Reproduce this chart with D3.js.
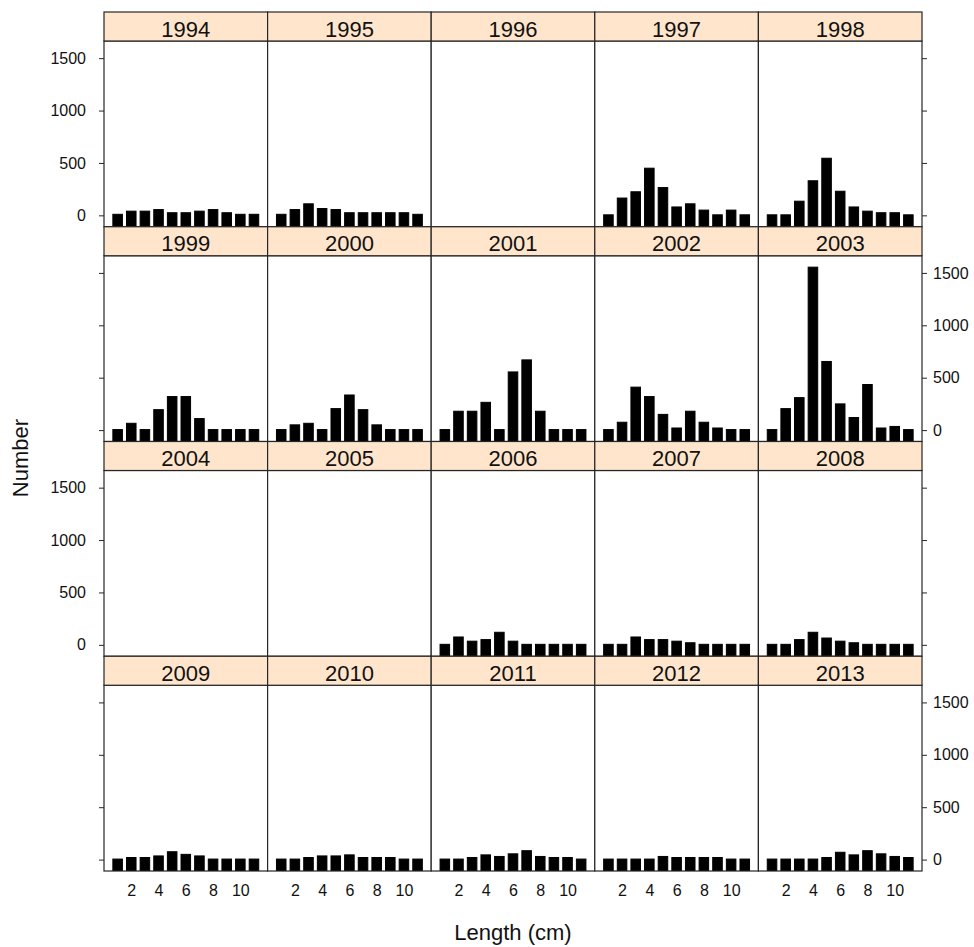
<!DOCTYPE html>
<html>
<head>
<meta charset="utf-8">
<script src="https://cdn.jsdelivr.net/npm/d3@7"></script>
<style>
  html, body { margin: 0; padding: 0; background: #fff; }
  svg { display: block; font-family: "Liberation Sans", Arial, sans-serif; }
</style>
</head>
<body>
<svg id="chart" width="974" height="947"></svg>
<script>
// ---- data ----
const years = [1994, 1995, 1996, 1997, 1998,
               1999, 2000, 2001, 2002, 2003,
               2004, 2005, 2006, 2007, 2008,
               2009, 2010, 2011, 2012, 2013];
const lengths = [1, 2, 3, 4, 5, 6, 7, 8, 9, 10, 11];
const n1994 = [10, 40, 40, 55, 25, 25, 40, 55, 25, 10, 10];
const n1995 = [10, 55, 110, 65, 55, 25, 25, 25, 25, 25, 10];
const n1996 = [];
const n1997 = [5, 165, 225, 450, 265, 80, 110, 50, 5, 50, 5];
const n1998 = [5, 5, 135, 330, 545, 230, 80, 40, 25, 25, 5];
const n1999 = [5, 65, 5, 195, 320, 320, 110, 5, 5, 5, 5];
const n2000 = [5, 50, 65, 5, 205, 335, 195, 50, 5, 5, 5];
const n2001 = [5, 180, 180, 265, 5, 555, 670, 180, 5, 5, 5];
const n2002 = [5, 75, 410, 320, 150, 20, 180, 75, 20, 5, 5];
const n2003 = [5, 205, 310, 1555, 655, 250, 120, 435, 20, 35, 5];
const n2004 = [];
const n2005 = [];
const n2006 = [5, 75, 35, 50, 120, 35, 5, 5, 5, 5, 5];
const n2007 = [5, 5, 75, 50, 50, 35, 20, 5, 5, 5, 5];
const n2008 = [5, 5, 50, 120, 65, 35, 20, 5, 5, 5, 5];
const n2009 = [5, 20, 20, 35, 75, 50, 35, 5, 5, 5, 5];
const n2010 = [5, 5, 20, 35, 35, 45, 20, 20, 20, 5, 5];
const n2011 = [5, 5, 20, 45, 30, 55, 85, 30, 20, 20, 5];
const n2012 = [5, 5, 5, 5, 30, 20, 20, 20, 20, 5, 5];
const n2013 = [5, 5, 5, 5, 20, 70, 45, 85, 55, 30, 20];
const yTicks = [0, 500, 1000, 1500];
const xTicks = [2, 4, 6, 8, 10];

const counts = [n1994, n1995, n1996, n1997, n1998, n1999, n2000, n2001, n2002, n2003,
                n2004, n2005, n2006, n2007, n2008, n2009, n2010, n2011, n2012, n2013];
const panels = years.map((yr, i) => ({
  year: yr, index: i,
  bars: counts[i].map((v, j) => ({ len: lengths[j], value: v }))
}));

// ---- layout ----
const svg = d3.select("#chart");
const L = 104, R = 922, T = 12, B = 871;
const ncol = 5, nrow = 4;
const colW = (R - L) / ncol;
const rowH = (B - T) / nrow;
const stripH = 29;
const border = "#262626";

const maxV = d3.max(counts.flat());
const yDomain = [-0.07 * maxV, 1.07 * maxV];

const defs = svg.append("defs");

panels.forEach(p => {
  const c = p.index % ncol, r = Math.floor(p.index / ncol);
  const x0 = L + c * colW, x1 = x0 + colW;
  const rTop = T + r * rowH, pTop = rTop + stripH, pBot = rTop + rowH;
  const x = d3.scaleLinear().domain([0, 12]).range([x0, x1]);
  const y = d3.scaleLinear().domain(yDomain).range([pBot, pTop]);

  const clipId = "clip" + p.index;
  defs.append("clipPath").attr("id", clipId)
    .append("rect").attr("x", x0).attr("y", pTop).attr("width", colW).attr("height", pBot - pTop);

  const g = svg.append("g");
  g.append("rect").attr("x", x0).attr("y", pTop).attr("width", colW).attr("height", pBot - pTop)
    .attr("fill", "#fff");

  const bw = 0.7;
  g.append("g").attr("clip-path", `url(#${clipId})`)
    .selectAll("rect").data(p.bars).join("rect")
    .attr("x", d => x(d.len - bw / 2))
    .attr("width", d => x(d.len + bw / 2) - x(d.len - bw / 2))
    .attr("y", d => y(d.value))
    .attr("height", d => y(yDomain[0]) - y(d.value))
    .attr("fill", "#000").attr("stroke", "#000").attr("stroke-width", 1);

  g.append("rect").attr("x", x0).attr("y", pTop).attr("width", colW).attr("height", pBot - pTop)
    .attr("fill", "none").attr("stroke", border).attr("stroke-width", 1.2);

  // strip
  g.append("rect").attr("x", x0).attr("y", rTop).attr("width", colW).attr("height", stripH)
    .attr("fill", "#FFE5CC").attr("stroke", border).attr("stroke-width", 1.2);
  g.append("text").attr("x", (x0 + x1) / 2).attr("y", rTop + 24.5)
    .attr("text-anchor", "middle").attr("font-size", 22).attr("fill", "#111")
    .text(p.year);

  // y axes
  const leftLabels = (r % 2 === 0);
  if (c === 0) {
    const ax = d3.axisLeft(y).tickValues(yTicks).tickSize(5).tickPadding(13)
      .tickFormat(leftLabels ? d3.format("d") : () => "");
    const ag = svg.append("g").attr("transform", `translate(${x0},0)`).call(ax);
    ag.select(".domain").remove();
    ag.selectAll("line").attr("stroke", border);
    ag.selectAll("text").attr("font-size", 16).attr("fill", "#111").attr("font-family", null);
  }
  if (c === ncol - 1) {
    const ax = d3.axisRight(y).tickValues(yTicks).tickSize(5).tickPadding(6)
      .tickFormat(!leftLabels ? d3.format("d") : () => "");
    const ag = svg.append("g").attr("transform", `translate(${x1},0)`).call(ax);
    ag.select(".domain").remove();
    ag.selectAll("line").attr("stroke", border);
    ag.selectAll("text").attr("font-size", 16).attr("fill", "#111").attr("font-family", null);
  }
  if (r === nrow - 1) {
    const ax = d3.axisBottom(x).tickValues(xTicks).tickSize(0).tickPadding(14);
    const ag = svg.append("g").attr("transform", `translate(0,${pBot})`).call(ax);
    ag.select(".domain").remove();
    ag.selectAll("line").remove();
    ag.selectAll("text").attr("font-size", 16).attr("fill", "#111").attr("font-family", null);
  }
});

// axis titles
svg.append("text").attr("x", (L + R) / 2).attr("y", 940)
  .attr("text-anchor", "middle").attr("font-size", 22).attr("fill", "#111")
  .text("Length (cm)");
svg.append("text").attr("transform", "translate(20,458) rotate(-90)")
  .attr("dy", "0.35em")
  .attr("text-anchor", "middle").attr("font-size", 22).attr("fill", "#111")
  .text("Number");
</script>
</body>
</html>
